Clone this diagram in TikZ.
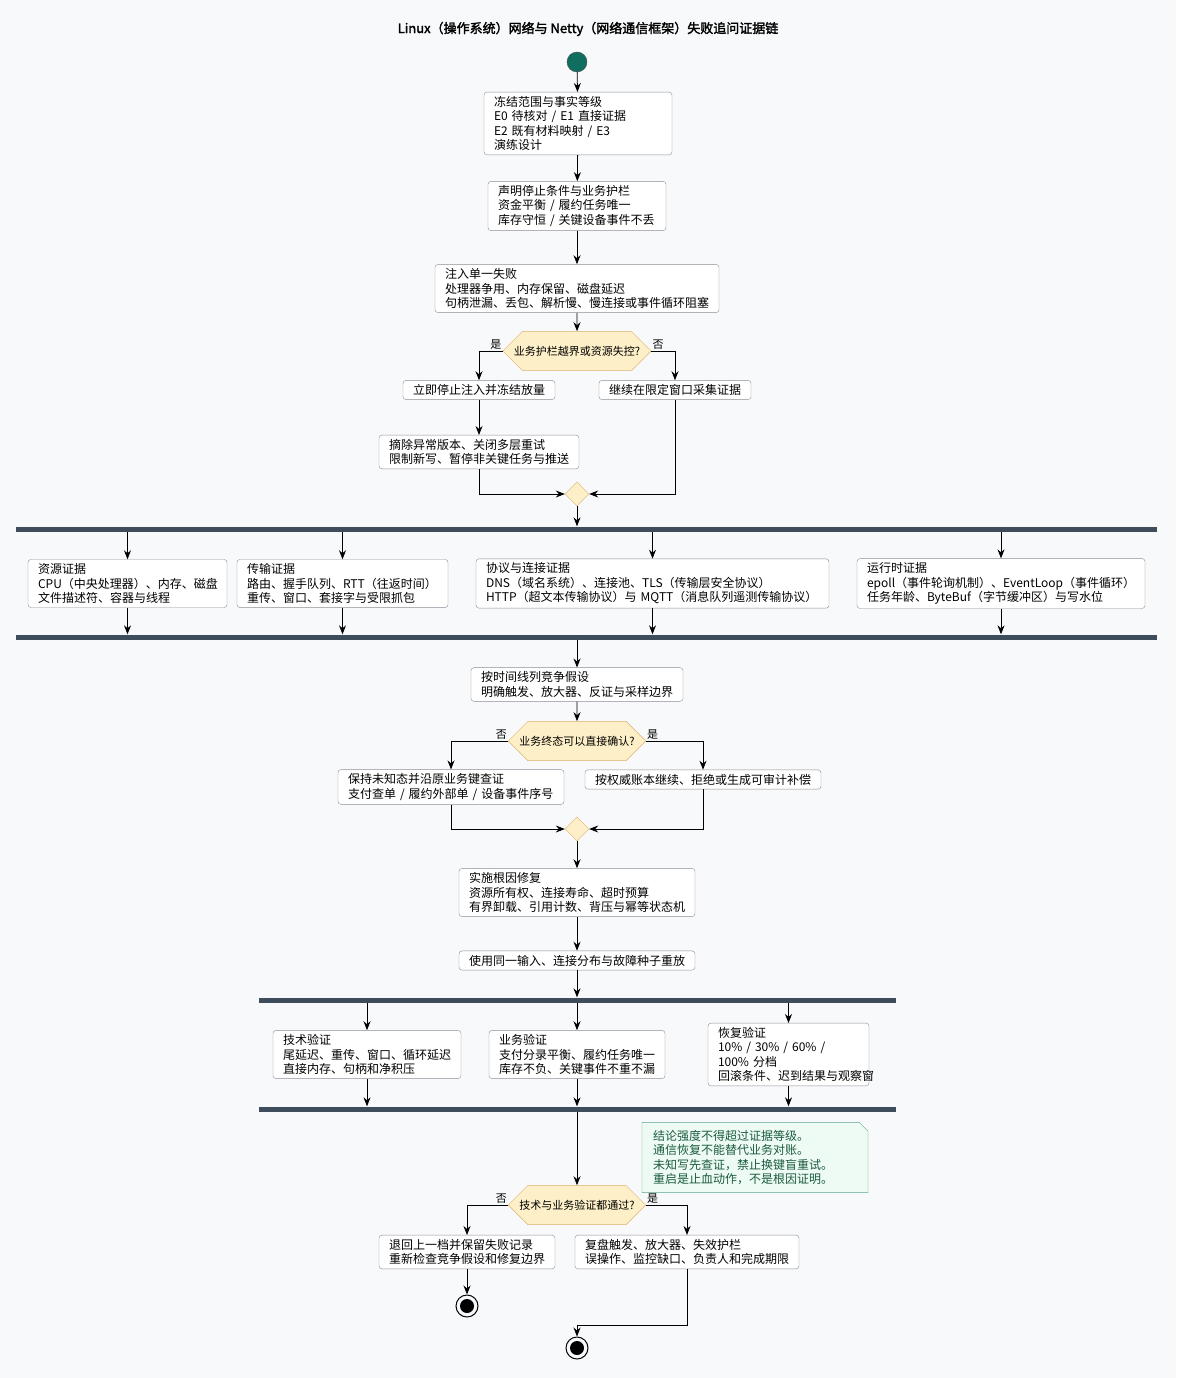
\documentclass[tikz,border=0pt]{standalone}
\usepackage{fontspec}
\setmainfont{Noto Sans CJK SC}[AutoFakeBold=2]
\usetikzlibrary{shapes.geometric,shapes.misc,arrows.meta}
\definecolor{bg}{HTML}{F8F9FB}
\definecolor{bd}{HTML}{8A8F96}
\definecolor{bar}{HTML}{3F4C5C}
\definecolor{dfill}{HTML}{FDF0C8}
\definecolor{dbd}{HTML}{E0B070}
\definecolor{nfill}{HTML}{EEFAF4}
\definecolor{nbd}{HTML}{5AA88A}
\definecolor{ntx}{HTML}{1A5C3E}
\definecolor{teal}{HTML}{0F6E5F}
\begin{document}
\begin{tikzpicture}[x=1pt,y=-1pt,
  font=\fontsize{12}{14.5}\selectfont,
  box/.style={draw=bd,fill=white,rounded corners=3pt,align=left,inner xsep=10pt,inner ysep=4pt,anchor=center},
  dec/.style={chamfered rectangle,chamfered rectangle xsep=10pt,chamfered rectangle ysep=10.5pt,draw=dbd,fill=dfill,inner xsep=2pt,inner ysep=4pt,font=\fontsize{11}{13}\selectfont,minimum height=21pt},
  mrg/.style={diamond,draw=dbd,fill=dfill,minimum size=24pt,inner sep=0pt},
  fbar/.style={fill=bar,minimum height=5pt,inner sep=0pt},
  arr/.style={-{Stealth[length=9pt,width=7pt,inset=3pt]},black,line width=0.8pt},
  lab/.style={font=\fontsize{11}{13}\selectfont,inner sep=1pt}]
\fill[bg] (0,0) rectangle (1176,1378);
\useasboundingbox (0,0) rectangle (1176,1378);
\node[font=\fontsize{13}{15}\selectfont\bfseries] (title) at (588,29) {Linux（操作系统）网络与 Netty（网络通信框架）失败追问证据链};
\node[circle,fill=teal,draw=black!70,minimum size=20pt,inner sep=0pt] (start) at (577,62) {};
\node[box,text width=168pt] (b1) at (578,123.5) {冻结范围与事实等级\\E0 待核对 / E1 直接证据\\E2 既有材料映射 / E3 演练设计};
\node[box,text width=158pt] (b2) at (577,206) {声明停止条件与业务护栏\\资金平衡 / 履约任务唯一\\库存守恒 / 关键设备事件不丢};
\node[box,text width=264pt] (b3) at (577,288.5) {注入单一失败\\处理器争用、内存保留、磁盘延迟\\句柄泄漏、丢包、解析慢、慢连接或事件循环阻塞};
\node[dec] (d1) at (577,351) {业务护栏越界或资源失控?};
\node[box,text width=132pt] (b4) at (479,390) {立即停止注入并冻结放量};
\node[box,text width=132pt] (b4r) at (675,390) {继续在限定窗口采集证据};
\node[box,text width=180pt] (b5) at (479,452) {摘除异常版本、关闭多层重试\\限制新写、暂停非关键任务与推送};
\node[mrg] (m1) at (577,494) {};
\node[fbar,minimum width=1141pt] (f1) at (586.5,529) {};
\node[box,text width=179pt] (ea) at (127.5,583.5) {资源证据\\CPU（中央处理器）、内存、磁盘\\文件描述符、容器与线程};
\node[box,text width=191pt] (eb) at (342.5,583.5) {传输证据\\路由、握手队列、RTT（往返时间）\\重传、窗口、套接字与受限抓包};
\node[box,text width=333pt] (ec) at (652.5,583.5) {协议与连接证据\\DNS（域名系统）、连接池、TLS（传输层安全协议）\\HTTP（超文本传输协议）与 MQTT（消息队列遥测传输协议）};
\node[box,text width=268pt] (ed) at (1001,583.5) {运行时证据\\epoll（事件轮询机制）、EventLoop（事件循环）\\任务年龄、ByteBuf（字节缓冲区）与写水位};
\node[fbar,minimum width=1141pt] (j1) at (586.5,637) {};
\node[box,text width=192pt] (b6) at (577,684.5) {按时间线列竞争假设\\明确触发、放大器、反证与采样边界};
\node[dec] (d2) at (577,741) {业务终态可以直接确认?};
\node[box,text width=206pt] (b7) at (451,787) {保持未知态并沿原业务键查证\\支付查单 / 履约外部单 / 设备事件序号};
\node[box,text width=216pt] (b7r) at (703,779.5) {按权威账本继续、拒绝或生成可审计补偿};
\node[mrg] (m2) at (577,829) {};
\node[box,text width=216pt] (b8) at (577,892.5) {实施根因修复\\资源所有权、连接寿命、超时预算\\有界卸载、引用计数、背压与幂等状态机};
\node[box,text width=216pt] (b9) at (577,960.5) {使用同一输入、连接分布与故障种子重放};
\node[fbar,minimum width=637pt] (f2) at (577.5,1000) {};
\node[box,text width=168pt] (va) at (367,1054.5) {技术验证\\尾延迟、重传、窗口、循环延迟\\直接内存、句柄和净积压};
\node[box,text width=156pt] (vb) at (577,1054.5) {业务验证\\支付分录平衡、履约任务唯一\\库存不负、关键事件不重不漏};
\node[box,text width=141pt] (vc) at (788.5,1054.5) {恢复验证\\10\% / 30\% / 60\% / 100\% 分档\\回滚条件、迟到结果与观察窗};
\node[fbar,minimum width=637pt] (j2) at (577.5,1109) {};
\node[draw=nbd,fill=nfill,text=ntx,align=left,inner xsep=6pt,inner ysep=4pt,text width=204pt,
  chamfered rectangle,chamfered rectangle corners=north east,chamfered rectangle xsep=5pt] (note) at (755,1157.5) {结论强度不得超过证据等级。\\通信恢复不能替代业务对账。\\未知写先查证，禁止换键盲重试。\\重启是止血动作，不是根因证明。};
\node[dec] (d3) at (577,1205) {技术与业务验证都通过?};
\node[box,text width=156pt] (r1) at (467,1252) {退回上一档并保留失败记录\\重新检查竞争假设和修复边界};
\node[box,text width=204pt] (r2) at (687,1252) {复盘触发、放大器、失效护栏\\误操作、监控缺口、负责人和完成期限};
\node[circle,draw=black,line width=1pt,minimum size=22pt,inner sep=0pt] (e1) at (467,1306) {};
\fill (e1) circle (7pt);
\node[circle,draw=black,line width=1pt,minimum size=22pt,inner sep=0pt] (e2) at (577,1348) {};
\fill (e2) circle (7pt);
\coordinate (c1) at (687,1325);
% connectors
\draw[arr] (start) -- (b1);
\draw[arr] (b1) -- (b2);
\draw[arr] (b2) -- (b3);
\draw[arr] (b3) -- (d1);
\draw[arr] (d1.west) -| (b4.north);
\draw[arr] (d1.east) -| (b4r.north);
\node[lab,anchor=south east] at (d1.west) {是};
\node[lab,anchor=south west] at (d1.east) {否};
\draw[arr] (b4) -- (b5);
\draw[arr] (b5.south) |- (m1.west);
\draw[arr] (b4r.south) |- (m1.east);
\draw[arr] (m1) -- (f1.north -| m1);
\foreach \n in {ea,eb,ec,ed}{
  \draw[arr] (f1.south -| \n) -- (\n.north);
  \draw[arr] (\n.south) -- (j1.north -| \n);
}
\draw[arr] (j1.south -| b6) -- (b6.north);
\draw[arr] (b6) -- (d2);
\draw[arr] (d2.west) -| (b7.north);
\draw[arr] (d2.east) -| (b7r.north);
\node[lab,anchor=south east] at (d2.west) {否};
\node[lab,anchor=south west] at (d2.east) {是};
\draw[arr] (b7.south) |- (m2.west);
\draw[arr] (b7r.south) |- (m2.east);
\draw[arr] (m2) -- (b8);
\draw[arr] (b8) -- (b9);
\draw[arr] (b9) -- (f2.north -| b9);
\foreach \n in {va,vb,vc}{
  \draw[arr] (f2.south -| \n) -- (\n.north);
  \draw[arr] (\n.south) -- (j2.north -| \n);
}
\draw[arr] (j2.south -| d3) -- (d3.north);
\draw[arr] (d3.west) -| (r1.north);
\draw[arr] (d3.east) -| (r2.north);
\node[lab,anchor=south east] at (d3.west) {否};
\node[lab,anchor=south west] at (d3.east) {是};
\draw[arr] (r1) -- (e1);
\draw[arr] (r2.south) -- (c1) -| (e2.north);
\end{tikzpicture}
\end{document}
